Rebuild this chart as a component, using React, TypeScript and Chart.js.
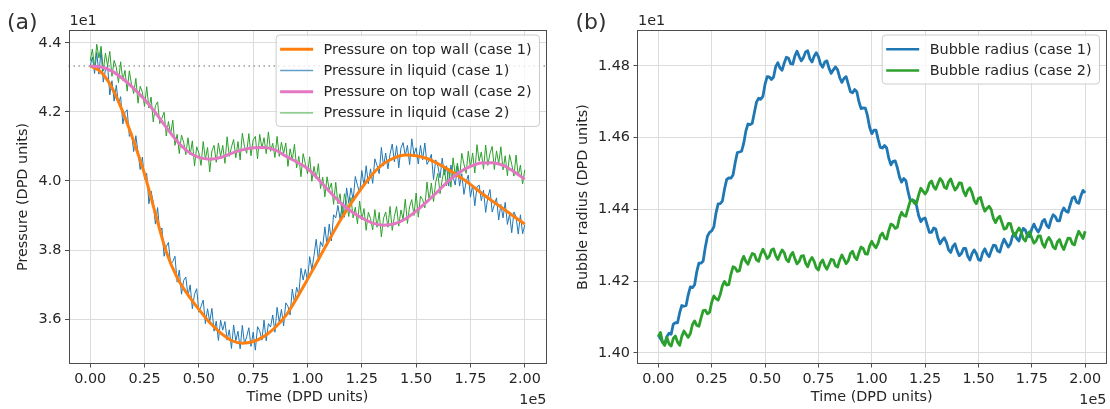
import React, { useEffect, useRef } from 'react';
import { Chart, registerables } from 'chart.js';

Chart.register(...registerables);

// ---------------- data ----------------
const SMOOTH_STEP = 5000; // time step of wall-pressure samples
const NOISY_STEP = 1000; // time step of liquid-pressure / bubble-radius samples
const INITIAL_PRESSURE = 43.33;

const TIME_TICKS = [0, 25000, 50000, 75000, 100000, 125000, 150000, 175000, 200000];
const TIME_TICK_LABELS = ['0.00', '0.25', '0.50', '0.75', '1.00', '1.25', '1.50', '1.75', '2.00'];
const PRESSURE_TICKS = [36, 38, 40, 42, 44];
const PRESSURE_TICK_LABELS = ['3.6', '3.8', '4.0', '4.2', '4.4'];
const RADIUS_TICKS = [14.0, 14.2, 14.4, 14.6, 14.8];
const RADIUS_TICK_LABELS = ['1.40', '1.42', '1.44', '1.46', '1.48'];

const wallPressureCase1 = [
  43.33, 43.15, 42.7, 42.0, 41.15, 40.2, 39.05, 37.95, 37.2, 36.7, 36.28, 35.9, 35.6, 35.38, 35.3,
  35.35, 35.5, 35.75, 36.1, 36.6, 37.15, 37.72, 38.3, 38.85, 39.35, 39.8, 40.2, 40.5, 40.67, 40.75,
  40.73, 40.65, 40.5, 40.32, 40.12, 39.9, 39.65, 39.42, 39.2, 38.97, 38.75,
];

const wallPressureCase2 = [
  43.33, 43.3, 43.18, 42.96, 42.68, 42.36, 41.98, 41.55, 41.15, 40.85, 40.68, 40.63, 40.68, 40.8, 40.9,
  40.96, 40.97, 40.9, 40.72, 40.55, 40.36, 40.05, 39.7, 39.38, 39.12, 38.93, 38.78, 38.72, 38.76, 38.9,
  39.13, 39.4, 39.7, 40.0, 40.25, 40.42, 40.52, 40.53, 40.45, 40.27, 40.05,
];

const liquidPressureCase1 = [
  43.33, 43.59, 43.11, 43.72, 43.09, 43.8, 42.86, 43.22, 43.33, 42.49,
  42.9, 42.31, 42.77, 42.23, 42.44, 41.65, 41.98, 42.06, 41.29, 41.42,
  40.85, 41.31, 40.82, 40.33, 40.69, 40.05, 40.22, 39.34, 39.71, 39.38,
  38.75, 39.23, 38.51, 38.64, 37.82, 38.1, 38.22, 37.57, 37.67, 37.82,
  37.07, 37.42, 36.72, 37.12, 37.22, 36.67, 36.99, 36.3, 36.72, 36.88,
  36.2, 36.37, 36.55, 35.87, 36.3, 35.92, 36.31, 35.65, 35.94, 35.38,
  35.97, 35.68, 35.93, 35.39, 35.69, 35.15, 35.83, 35.37, 35.65, 35.14,
  35.82, 35.28, 35.49, 35.75, 35.21, 35.62, 35.1, 35.78, 35.66, 35.39,
  35.97, 35.37, 35.87, 35.77, 36.12, 35.62, 36.34, 35.91, 36.28, 35.8,
  36.47, 36.37, 36.12, 36.87, 36.47, 36.92, 36.71, 37.47, 37.13, 37.44,
  37.1, 37.81, 37.43, 37.84, 38.31, 37.72, 38.24, 38.1, 38.67, 38.13,
  38.75, 38.26, 39.02, 38.93, 39.29, 38.9, 39.3, 38.95, 39.8, 39.35,
  39.8, 39.44, 40.13, 39.87, 39.66, 40.3, 39.86, 40.44, 39.92, 40.35,
  39.93, 40.64, 40.45, 40.21, 40.97, 40.43, 40.81, 40.35, 40.78, 41.07,
  40.55, 41.02, 40.38, 40.95, 41.11, 40.73, 41.03, 40.47, 41.22, 40.76,
  40.96, 40.49, 41.03, 40.61, 41.1, 40.48, 40.6, 40.77, 40.04, 40.61,
  40.43, 40.09, 40.66, 40.17, 40.44, 39.85, 40.46, 40.12, 39.88, 40.44,
  39.85, 40.21, 39.61, 39.97, 40.17, 39.53, 39.88, 39.28, 39.83, 39.88,
  39.43, 39.73, 39.09, 39.54, 39.75, 39.1, 39.31, 39.51, 38.87, 39.32,
  38.93, 39.38, 38.74, 39.04, 38.5, 39.1, 38.96, 38.46, 39.02, 38.47,
  38.73,
];

const liquidPressureCase2 = [
  43.48, 43.82, 43.27, 43.96, 43.56, 43.9, 43.18, 43.7, 43.33, 43.75,
  43.03, 43.49, 43.29, 42.85, 43.45, 42.91, 43.2, 42.6, 43.19, 42.79,
  42.53, 42.97, 42.25, 42.74, 42.57, 42.16, 42.73, 42.11, 42.43, 41.71,
  42.18, 42.29, 41.66, 41.82, 41.99, 41.3, 41.72, 41.34, 41.76, 41.03,
  41.35, 40.79, 41.33, 41.12, 40.76, 41.25, 40.75, 41.16, 40.43, 40.99,
  40.81, 40.45, 41.14, 40.63, 40.97, 40.26, 40.87, 41.03, 40.54, 41.1,
  40.71, 41.03, 40.51, 41.28, 40.71, 40.98, 41.2, 40.67, 41.14, 40.61,
  41.38, 40.99, 40.8, 41.37, 40.73, 41.19, 41.29, 40.64, 41.35, 40.95,
  41.25, 40.79, 41.42, 40.86, 41.09, 40.68, 41.29, 40.71, 41.12, 40.79,
  41.1, 40.42, 40.93, 40.6, 41.06, 40.38, 40.71, 40.12, 40.79, 40.5,
  40.21, 40.7, 39.99, 40.42, 40.06, 40.5, 39.78, 40.11, 39.54, 40.12,
  39.75, 39.94, 39.32, 39.96, 39.34, 39.63, 38.98, 39.63, 39.37, 38.97,
  39.52, 38.93, 39.24, 38.76, 39.42, 38.88, 39.2, 38.57, 39.09, 38.91,
  38.58, 39.17, 38.66, 39.09, 38.38, 38.92, 39.1, 38.66, 39.26, 38.57,
  38.98, 39.26, 38.69, 39.16, 38.89, 39.47, 38.77, 39.26, 39.46, 39.0,
  39.65, 38.95, 39.56, 39.46, 39.22, 39.97, 39.43, 39.94, 39.4, 39.96,
  40.22, 39.63, 40.04, 40.35, 39.86, 40.37, 39.82, 40.67, 40.17, 40.52,
  40.07, 40.8, 40.49, 40.22, 40.86, 40.39, 40.81, 40.23, 41.05, 40.57,
  40.84, 40.34, 41.04, 40.45, 40.8, 41.0, 40.33, 40.87, 40.5, 40.99,
  40.32, 40.73, 40.15, 40.76, 40.48, 40.14, 40.75, 40.15, 40.46, 39.91,
  40.32,
];

const bubbleRadiusCase1 = [
  14.05, 14.04, 14.03, 14.025, 14.045, 14.055, 14.052, 14.08, 14.084, 14.084,
  14.112, 14.132, 14.13, 14.132, 14.162, 14.184, 14.182, 14.19, 14.226, 14.25,
  14.25, 14.256, 14.294, 14.325, 14.336, 14.34, 14.351, 14.389, 14.415, 14.416,
  14.423, 14.456, 14.483, 14.488, 14.487, 14.496, 14.53, 14.558, 14.56, 14.562,
  14.584, 14.618, 14.638, 14.636, 14.64, 14.67, 14.699, 14.71, 14.707, 14.715,
  14.749, 14.77, 14.769, 14.762, 14.769, 14.798, 14.809, 14.794, 14.788, 14.808,
  14.824, 14.821, 14.806, 14.805, 14.828, 14.841, 14.826, 14.814, 14.823, 14.839,
  14.842, 14.82, 14.811, 14.827, 14.837, 14.826, 14.805, 14.796, 14.811, 14.814,
  14.793, 14.779, 14.789, 14.797, 14.789, 14.767, 14.754, 14.765, 14.77, 14.749,
  14.728, 14.725, 14.734, 14.728, 14.7, 14.681, 14.683, 14.682, 14.661, 14.629,
  14.611, 14.621, 14.621, 14.595, 14.573, 14.571, 14.578, 14.571, 14.542, 14.524,
  14.534, 14.535, 14.516, 14.49, 14.476, 14.486, 14.48, 14.45, 14.426, 14.426,
  14.424, 14.41, 14.382, 14.366, 14.374, 14.376, 14.356, 14.336, 14.336, 14.348,
  14.345, 14.32, 14.304, 14.314, 14.321, 14.308, 14.287, 14.28, 14.297, 14.304,
  14.285, 14.271, 14.277, 14.291, 14.291, 14.269, 14.259, 14.277, 14.287, 14.277,
  14.26, 14.258, 14.28, 14.29, 14.276, 14.268, 14.285, 14.3, 14.299, 14.284,
  14.281, 14.302, 14.317, 14.306, 14.295, 14.304, 14.326, 14.333, 14.318, 14.312,
  14.332, 14.347, 14.342, 14.326, 14.324, 14.346, 14.359, 14.346, 14.337, 14.348,
  14.367, 14.372, 14.355, 14.349, 14.371, 14.385, 14.38, 14.368, 14.368, 14.392,
  14.404, 14.395, 14.392, 14.413, 14.432, 14.435, 14.42, 14.417, 14.438, 14.453,
  14.446,
];

const bubbleRadiusCase2 = [
  14.045, 14.057, 14.029, 14.021, 14.043, 14.025, 14.019, 14.04, 14.047, 14.03,
  14.021, 14.046, 14.061, 14.052, 14.043, 14.054, 14.079, 14.089, 14.077, 14.074,
  14.097, 14.118, 14.119, 14.109, 14.113, 14.141, 14.159, 14.151, 14.147, 14.163,
  14.187, 14.199, 14.189, 14.19, 14.219, 14.24, 14.237, 14.227, 14.229, 14.255,
  14.269, 14.255, 14.247, 14.263, 14.277, 14.275, 14.259, 14.255, 14.275, 14.289,
  14.277, 14.263, 14.269, 14.287, 14.29, 14.271, 14.26, 14.275, 14.287, 14.279,
  14.26, 14.254, 14.272, 14.28, 14.262, 14.248, 14.255, 14.27, 14.271, 14.25,
  14.24, 14.257, 14.266, 14.255, 14.237, 14.231, 14.251, 14.259, 14.243, 14.233,
  14.247, 14.261, 14.259, 14.243, 14.239, 14.259, 14.273, 14.261, 14.249, 14.257,
  14.277, 14.283, 14.267, 14.26, 14.279, 14.295, 14.291, 14.276, 14.275, 14.298,
  14.311, 14.3, 14.293, 14.306, 14.327, 14.334, 14.32, 14.317, 14.342, 14.359,
  14.356, 14.347, 14.35, 14.377, 14.392, 14.383, 14.381, 14.403, 14.423, 14.427,
  14.417, 14.417, 14.441, 14.459, 14.451, 14.443, 14.452, 14.473, 14.479, 14.463,
  14.456, 14.472, 14.486, 14.479, 14.462, 14.458, 14.477, 14.485, 14.468, 14.454,
  14.461, 14.474, 14.473, 14.45, 14.438, 14.454, 14.46, 14.446, 14.425, 14.416,
  14.431, 14.433, 14.411, 14.395, 14.403, 14.409, 14.399, 14.375, 14.363, 14.375,
  14.381, 14.363, 14.345, 14.347, 14.361, 14.36, 14.338, 14.325, 14.338, 14.348,
  14.338, 14.318, 14.312, 14.33, 14.338, 14.32, 14.306, 14.312, 14.326, 14.326,
  14.304, 14.294, 14.312, 14.322, 14.312, 14.295, 14.29, 14.309, 14.316, 14.299,
  14.288, 14.305, 14.32, 14.319, 14.304, 14.301, 14.323, 14.339, 14.329, 14.319,
  14.339,
];

// ---------------- style ----------------
const FONT = '"DejaVu Sans", "Liberation Sans", sans-serif';
const FS = 14.4;
const TEXT = '#262626';
const GRID = '#dcdcdc';
const SPINE = '#4d4d4d';
const C_BLUE = '#1f77b4';
const C_ORANGE = '#ff7f0e';
const C_GREEN = '#2ca02c';
const C_PINK = '#e377c2';

const toPoints = (vals: number[], step: number) => vals.map((y, i) => ({ x: i * step, y }));

// ---------------- plugins ----------------
const decorPlugin = {
  id: 'decor',
  beforeDatasetsDraw(chart: any, _a: any, opts: any) {
    if (opts.refValue == null) return;
    const { ctx, chartArea } = chart;
    const y = chart.scales.y.getPixelForValue(opts.refValue);
    ctx.save();
    ctx.strokeStyle = '#9a9a9a';
    ctx.lineWidth = 1.5;
    ctx.setLineDash([1.5, 3.5]);
    ctx.beginPath();
    ctx.moveTo(chartArea.left, y);
    ctx.lineTo(chartArea.right, y);
    ctx.stroke();
    ctx.restore();
  },
  afterDatasetsDraw(chart: any) {
    const { ctx, chartArea } = chart;
    ctx.save();
    ctx.strokeStyle = SPINE;
    ctx.lineWidth = 1;
    const l = Math.round(chartArea.left) + 0.5;
    const t = Math.round(chartArea.top) + 0.5;
    const r = Math.round(chartArea.right) - 0.5;
    const b = Math.round(chartArea.bottom) - 0.5;
    ctx.strokeRect(l, t, r - l, b - t);
    ctx.restore();
  },
  afterDraw(chart: any, _a: any, opts: any) {
    const { ctx, chartArea } = chart;
    ctx.save();
    // panel label
    ctx.fillStyle = '#333333';
    ctx.font = `22px ${FONT}`;
    ctx.textAlign = 'left';
    ctx.textBaseline = 'alphabetic';
    ctx.fillText(opts.panel, chartArea.left - 61.5, 28.5);
    // offset texts
    ctx.fillStyle = TEXT;
    ctx.font = `${FS}px ${FONT}`;
    ctx.fillText(opts.yOffset, chartArea.left + 1, chartArea.top - 5);
    ctx.textAlign = 'right';
    ctx.fillText(opts.xOffset, chartArea.right, 404);

    // legend
    const items = (opts.items as number[]).map((i) => chart.data.datasets[i]);
    const padL = 4;
    const handle = 33;
    const gap = 10.5;
    const padR = 8;
    const firstRow = 14.3;
    const rowH = 21.2;
    const lastPad = 13.5;
    const maxW = Math.max(...items.map((d: any) => ctx.measureText(d.label).width));
    const w = padL + handle + gap + maxW + padR;
    const h = firstRow + (items.length - 1) * rowH + lastPad;
    const x0 = chartArea.right - 7 - w;
    const y0 = chartArea.top + 5;
    ctx.beginPath();
    const rad = 3.5;
    ctx.moveTo(x0 + rad, y0);
    ctx.arcTo(x0 + w, y0, x0 + w, y0 + h, rad);
    ctx.arcTo(x0 + w, y0 + h, x0, y0 + h, rad);
    ctx.arcTo(x0, y0 + h, x0, y0, rad);
    ctx.arcTo(x0, y0, x0 + w, y0, rad);
    ctx.closePath();
    ctx.fillStyle = 'rgba(255,255,255,0.8)';
    ctx.fill();
    ctx.strokeStyle = '#cccccc';
    ctx.lineWidth = 1;
    ctx.stroke();
    items.forEach((d: any, k: number) => {
      const cy = y0 + firstRow + k * rowH;
      ctx.save();
      ctx.strokeStyle = d.borderColor;
      ctx.lineWidth = d.legendWidth;
      ctx.globalAlpha = d.legendAlpha;
      ctx.beginPath();
      ctx.moveTo(x0 + padL, cy);
      ctx.lineTo(x0 + padL + handle, cy);
      ctx.stroke();
      ctx.restore();
      ctx.fillStyle = TEXT;
      ctx.textAlign = 'left';
      ctx.textBaseline = 'middle';
      ctx.fillText(d.label, x0 + padL + handle + gap, cy + 0.5);
    });
    ctx.restore();
  },
};

function xScale() {
  return {
    type: 'linear',
    min: -10000,
    max: 210000,
    afterBuildTicks: (s: any) => {
      s.ticks = TIME_TICKS.map((v) => ({ value: v }));
    },
    afterFit: (s: any) => {
      s.height = 45;
    },
    ticks: {
      autoSkip: false,
      maxRotation: 0,
      padding: 3,
      color: TEXT,
      font: { family: FONT, size: FS },
      callback: (_v: any, i: number) => TIME_TICK_LABELS[i],
    },
    grid: { color: GRID, lineWidth: 1, tickLength: 3.5, tickColor: SPINE, tickWidth: 1, drawTicks: true },
    border: { display: false },
    title: {
      display: true,
      text: 'Time (DPD units)',
      color: TEXT,
      font: { family: FONT, size: FS },
      padding: { top: 0, bottom: 2.7 },
    },
  };
}

function yScale(min: number, max: number, ticks: number[], labels: string[], title: string, width: number, titlePad: number) {
  return {
    type: 'linear',
    min,
    max,
    afterBuildTicks: (s: any) => {
      s.ticks = ticks.map((v) => ({ value: v }));
    },
    afterFit: (s: any) => {
      s.width = width;
    },
    ticks: {
      autoSkip: false,
      padding: 3.5,
      color: TEXT,
      font: { family: FONT, size: FS },
      callback: (_v: any, i: number) => labels[i],
    },
    grid: { color: GRID, lineWidth: 1, tickLength: 3.5, tickColor: SPINE, tickWidth: 1, drawTicks: true },
    border: { display: false },
    title: {
      display: true,
      text: title,
      color: TEXT,
      font: { family: FONT, size: FS },
      padding: { top: titlePad, bottom: 0 },
    },
  };
}

function pressureConfig(): any {
  return {
    type: 'line',
    data: {
      datasets: [
        {
          label: 'Pressure on top wall (case 1)',
          data: toPoints(wallPressureCase1, SMOOTH_STEP),
          borderColor: C_ORANGE,
          borderWidth: 3,
          cubicInterpolationMode: 'monotone',
          order: 1,
          legendWidth: 3,
          legendAlpha: 1,
        },
        {
          label: 'Pressure in liquid (case 1)',
          data: toPoints(liquidPressureCase1, NOISY_STEP),
          borderColor: C_BLUE,
          borderWidth: 1,
          tension: 0,
          order: 3,
          legendWidth: 1.3,
          legendAlpha: 0.7,
        },
        {
          label: 'Pressure on top wall (case 2)',
          data: toPoints(wallPressureCase2, SMOOTH_STEP),
          borderColor: C_PINK,
          borderWidth: 3,
          cubicInterpolationMode: 'monotone',
          order: 0,
          legendWidth: 3,
          legendAlpha: 1,
        },
        {
          label: 'Pressure in liquid (case 2)',
          data: toPoints(liquidPressureCase2, NOISY_STEP),
          borderColor: C_GREEN,
          borderWidth: 1,
          tension: 0,
          order: 2,
          legendWidth: 1.3,
          legendAlpha: 0.7,
        },
      ],
    },
    options: {
      responsive: false,
      animation: false,
      events: [],
      layout: { padding: { left: 0, right: 8.5, top: 30, bottom: 0 } },
      elements: { point: { radius: 0 }, line: { borderJoinStyle: 'round', fill: false } },
      scales: {
        x: xScale(),
        y: yScale(34.7, 44.37, PRESSURE_TICKS, PRESSURE_TICK_LABELS, 'Pressure (DPD units)', 68.5, 14.8),
      },
      plugins: {
        legend: { display: false },
        tooltip: { enabled: false },
        decor: { panel: '(a)', yOffset: '1e1', xOffset: '1e5', refValue: INITIAL_PRESSURE, items: [0, 1, 2, 3] },
      },
    },
    plugins: [decorPlugin],
  };
}

function radiusConfig(): any {
  return {
    type: 'line',
    data: {
      datasets: [
        {
          label: 'Bubble radius (case 1)',
          data: toPoints(bubbleRadiusCase1, NOISY_STEP),
          borderColor: C_BLUE,
          borderWidth: 2.8,
          tension: 0,
          order: 1,
          legendWidth: 2.5,
          legendAlpha: 1,
        },
        {
          label: 'Bubble radius (case 2)',
          data: toPoints(bubbleRadiusCase2, NOISY_STEP),
          borderColor: C_GREEN,
          borderWidth: 2.8,
          tension: 0,
          order: 0,
          legendWidth: 2.5,
          legendAlpha: 1,
        },
      ],
    },
    options: {
      responsive: false,
      animation: false,
      events: [],
      layout: { padding: { left: 0, right: 3.5, top: 30, bottom: 0 } },
      elements: { point: { radius: 0 }, line: { borderJoinStyle: 'round', fill: false } },
      scales: {
        x: xScale(),
        y: yScale(13.969, 14.9, RADIUS_TICKS, RADIUS_TICK_LABELS, 'Bubble radius (DPD units)', 82, 20),
      },
      plugins: {
        legend: { display: false },
        tooltip: { enabled: false },
        decor: { panel: '(b)', yOffset: '1e1', xOffset: '1e5', refValue: null, items: [0, 1] },
      },
    },
    plugins: [decorPlugin],
  };
}

export default function App() {
  const leftRef = useRef<HTMLCanvasElement>(null);
  const rightRef = useRef<HTMLCanvasElement>(null);

  useEffect(() => {
    const c1 = new Chart(leftRef.current as HTMLCanvasElement, pressureConfig());
    const c2 = new Chart(rightRef.current as HTMLCanvasElement, radiusConfig());
    return () => {
      c1.destroy();
      c2.destroy();
    };
  }, []);

  return (
    <div style={{ position: 'absolute', left: 0, top: 0, width: 1110, height: 409, background: '#ffffff' }}>
      <canvas ref={leftRef} width={555} height={409} style={{ position: 'absolute', left: 0, top: 0 }} />
      <canvas ref={rightRef} width={555} height={409} style={{ position: 'absolute', left: 555, top: 0 }} />
    </div>
  );
}
